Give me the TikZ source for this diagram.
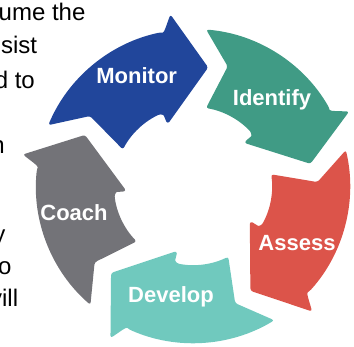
\documentclass[tikz,border=0pt]{standalone}
\usepackage{fontspec}
\setmainfont{Liberation Sans}

\definecolor{monitorblue}{RGB}{33,70,155}
\definecolor{identifygreen}{RGB}{64,155,133}
\definecolor{assessred}{RGB}{220,84,74}
\definecolor{developteal}{RGB}{112,201,190}
\definecolor{coachgrey}{RGB}{115,115,120}

\tikzset{
  cycle arrow/.pic={
    \fill[#1, rounded corners=2.5pt]
      (85.2:157pt) arc[start angle=85.2, end angle=30, radius=157pt]
      .. controls (28.6:156pt) and (27.2:164pt) .. (25.5:173pt)
      -- (10.7:119.5pt)
      -- (40:67pt)
      .. controls (41:72pt) and (40:76pt) .. (42:79pt)
      arc[start angle=42, end angle=80.5, radius=79pt]
      -- (73.8:124.5pt)
      -- cycle;
  },
  step label/.style={text=white, font=\bfseries\fontsize{22}{26}\selectfont, inner sep=0pt, anchor=base},
  body text/.style={text=black, font=\fontsize{24}{28}\selectfont, inner sep=0pt, anchor=base east},
}

\begin{document}
\begin{tikzpicture}[x=1pt,y=1pt]
\useasboundingbox (0,0) rectangle (354,347);
\clip (0,0) rectangle (354,347);

% running text behind the cycle
\node[body text, anchor=base west] (line1) at (-1.5,326) {ume the};
\node[body text] (line2) at (37.3,293.7) {sist};
\node[body text] (line3) at (35,258.7) {d to};
\node[body text] (line4) at (5,193.7) {n};
\node[body text] (line5) at (5.5,104.6) {y};
\node[body text] (line6) at (11.7,72) {o};
\node[body text] (line7) at (18.3,40.3) {vill};

% the five arrows
\coordinate (hub) at (193,161);
\pic[rotate=72] at (hub) {cycle arrow=monitorblue};
\pic at (hub) {cycle arrow=identifygreen};
\pic[rotate=-72] at (hub) {cycle arrow=assessred};
\pic[rotate=-144] at (hub) {cycle arrow=developteal};
\pic[rotate=144] at (hub) {cycle arrow=coachgrey};

% labels
\node[step label] (monitor) at (136.7,263) {Monitor};
\node[step label] (identify) at (272,241) {Identify};
\node[step label] (assess) at (297,96) {Assess};
\node[step label] (develop) at (171,44.5) {Develop};
\node[step label] (coach) at (74,126.3) {Coach};

\end{tikzpicture}
\end{document}
